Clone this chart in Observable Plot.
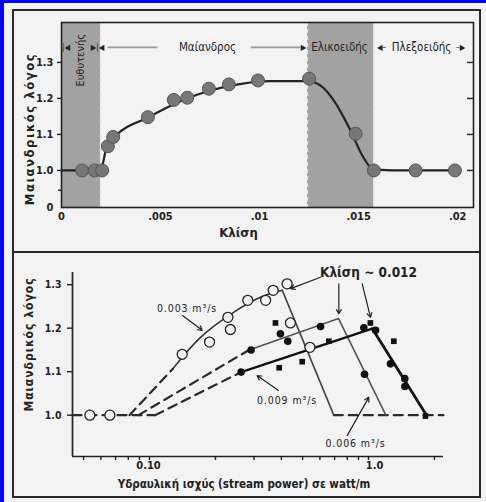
<!DOCTYPE html>
<html>
<head>
<meta charset="utf-8">
<script src="https://cdn.jsdelivr.net/npm/d3@7"></script>
<script src="https://cdn.jsdelivr.net/npm/@observablehq/plot@0.6"></script>
<style>
  html, body { margin: 0; padding: 0; background: #0606f6; width: 486px; height: 502px; overflow: hidden; }
  #page { position: absolute; left: 4px; top: 3px; width: 482px; height: 499px; background: #f3f3f3; }
  #outer { position: absolute; left: 12px; top: 9px; width: 469px; height: 489px; box-sizing: border-box; border: 2px solid #2a2a2a; }
  #sep { position: absolute; left: 12px; top: 251px; width: 469px; height: 2px; background: #2a2a2a; }
  #topChart { position: absolute; left: 0; top: 0; }
  #bottomChart { position: absolute; left: 0; top: 250px; }
</style>
</head>
<body>
<div id="page"></div>
<div id="outer"></div>
<div id="sep"></div>
<div id="topChart"></div>
<div id="bottomChart"></div>
<script>
// ================= TOP PANEL DATA =================
const slopeValues     = [0.00104,0.00167,0.00205,0.00234,0.00261,0.00436,0.00567,0.00635,0.00744,0.00845,0.00992,0.01250,0.01485,0.01577,0.01788,0.01986];
const sinuosityValues = [1.000,1.000,1.000,1.067,1.093,1.148,1.196,1.202,1.227,1.239,1.250,1.255,1.102,1.000,1.000,1.000];
const fitSlope     = [0,0.00197,0.00230,0.00270,0.00440,0.00600,0.00750,0.00900,0.01050,0.01240,0.01310,0.01380,0.01460,0.01520,0.01570,0.01660,0.01990];
const fitSinuosity = [1.000,1.000,1.070,1.095,1.148,1.192,1.222,1.240,1.248,1.248,1.235,1.190,1.110,1.040,1.005,1.000,1.000];
const bandStart = [0, 0.01242];
const bandEnd   = [0.00197, 0.01576];
const bandEdges = [0.00197, 0.01242, 0.01576];
const zoneNames = ["Μαίανδρος", "Ελικοειδής", "Πλεξοειδής"];
const zoneX     = [0.00737, 0.01404, 0.01818];
const zoneRowY  = 1.342;
const straightName = "Ευθυτενής";
const straightX = 0.00096, straightY = 1.306;
const glyphTexts = ["|◀", "▶|◀", "▶", "◀–", "–▶"];
const glyphX     = [0.00023, 0.00182, 0.01222, 0.01616, 0.02015];
const guideFrom  = [0.00232, 0.00955];
const guideTo    = [0.00485, 0.01207];
const topXTicks  = [0, 0.005, 0.01, 0.015, 0.02];
const topXLabels = ["0", ".005", ".01", ".015", ".02"];
const topYTicks  = [1.0, 1.1, 1.2, 1.3];
const topXDomain = [0, 0.0208];
const topYDomain = [0.897, 1.411];
const topXTitle = "Κλίση";
const yTitle = "Μαιανδρικός λόγος";

// ================= BOTTOM PANEL DATA =================
const openX   = [0.0534,0.0659,0.141,0.188,0.228,0.234,0.281,0.339,0.367,0.425,0.440,0.540];
const openY   = [1.000,1.000,1.140,1.168,1.225,1.197,1.264,1.264,1.287,1.302,1.212,1.156];
const filledX = [0.262,0.291,0.396,0.428,0.604,0.952,1.077,0.959,1.260,1.465,1.465];
const filledY = [1.099,1.150,1.187,1.170,1.204,1.201,1.195,1.094,1.118,1.084,1.066];
const squareX = [0.376,0.391,0.498,0.659,1.020,1.305,1.820];
const squareY = [1.212,1.109,1.123,1.170,1.212,1.170,0.998];
const q003Dashed = [[0.081,1.0],[0.128,1.107]];
const q003Solid  = [[0.128,1.107],[0.171,1.179],[0.243,1.237],[0.321,1.271],[0.404,1.287]];
const q003Drop   = [[0.404,1.287],[0.694,1.0]];
const q006Dashed = [[0.089,1.0],[0.285,1.150]];
const q006Solid  = [[0.285,1.150],[0.730,1.222],[1.200,1.0]];
const q009Dashed = [[0.106,1.0],[0.262,1.099]];
const q009Solid  = [[0.262,1.099],[1.040,1.199]];
const q009Drop   = [[1.040,1.199],[1.840,1.0]];
const baseLeft   = [[0.0445,1.0],[0.106,1.0]];
const baseRight  = [[0.694,1.0],[2.2,1.0]];
const noteTexts = ["0.003 m³/s", "0.009 m³/s", "0.006 m³/s"];
const noteX     = [0.1483, 0.4245, 0.872];
const noteY     = [1.245, 1.034, 0.934];
const slopeNote = "Κλίση ~ 0.012";
const slopeNoteX = 1.0, slopeNoteY = 1.328;
const arrowX1 = [0.1415, 0.388, 0.799, 0.604, 0.732, 0.936];
const arrowY1 = [1.229, 1.057, 0.953, 1.317, 1.302, 1.302];
const arrowX2 = [0.174, 0.310, 1.003, 0.4405, 0.732, 1.021];
const arrowY2 = [1.195, 1.091, 1.041, 1.291, 1.233, 1.225];
const botYTicks = [1.0, 1.1, 1.2, 1.3];
const botMinorTicks = [0.05,0.06,0.07,0.08,0.09,0.2,0.3,0.4,0.5,0.6,0.7,0.8,0.9,2];
const botMajorTicks = [0.1, 1.0];
const botMajorLabels = ["0.10", "1.0"];
const botXDomain = [0.0445, 2.2];
const botYDomain = [0.905, 1.328];
const botXTitle = "Υδραυλική ισχύς (stream power) σε watt/m";

const narrow = '"Liberation Sans Narrow","DejaVu Sans Condensed","Liberation Sans",Arial,sans-serif';
const ink = "#222";

// ---------- TOP CHART ----------
const topPoints = slopeValues.map((x, i) => ({x, y: sinuosityValues[i]}));
const topFit = fitSlope.map((x, i) => ({x, y: fitSinuosity[i]}));
const bands = bandStart.map((x1, i) => ({x1, x2: bandEnd[i]}));
const zones = zoneNames.map((t, i) => ({t, x: zoneX[i], y: zoneRowY}));
const glyphs = glyphTexts.map((t, i) => ({t, x: glyphX[i], y: zoneRowY}));
const guides = guideFrom.map((x1, i) => ({x1, x2: guideTo[i], y: zoneRowY}));

const topPlot = Plot.plot({
  width: 486, height: 250,
  marginLeft: 61, marginRight: 13, marginTop: 22, marginBottom: 43,
  style: {background: "transparent", fontFamily: narrow, fontSize: "11px", fontWeight: "bold", color: ink, overflow: "visible"},
  x: {domain: topXDomain, label: null},
  y: {domain: topYDomain, label: null},
  marks: [
    Plot.rect(bands, {x1: "x1", x2: "x2", fill: "#a2a2a2"}),
    Plot.ruleX(bandEdges, {stroke: "#e2e2e2", strokeWidth: 1.4, strokeDasharray: "4,3"}),
    Plot.frame({stroke: ink, strokeWidth: 1.6}),
    Plot.axisX(topXTicks, {tickSize: 0, tickPadding: 5, tickFormat: d => topXLabels[topXTicks.indexOf(d)], label: null}),
    Plot.axisY(topYTicks, {tickSize: 4, tickPadding: 4, tickFormat: d3.format(".1f"), label: null, strokeWidth: 1.4}),
    Plot.axisY([0.945], {tickSize: 3, tickFormat: () => "", label: null, strokeWidth: 1.4}),
    Plot.axisY([topYDomain[0]], {tickSize: 0, tickPadding: 8, tickFormat: () => "0", label: null}),
    Plot.tickY(topYTicks, {insetLeft: 406, stroke: ink, strokeWidth: 1.4}),
    Plot.line(topFit, {x: "x", y: "y", curve: "monotone-x", stroke: ink, strokeWidth: 2.2}),
    Plot.dot(topPoints, {x: "x", y: "y", r: 6.5, fill: "#777", stroke: "#555", strokeWidth: 1}),
    Plot.link(guides, {x1: "x1", x2: "x2", y1: "y", y2: "y", stroke: "#9a9a9a", strokeWidth: 1.6}),
    Plot.text(zones, {x: "x", y: "y", text: "t", fontSize: 11.5, fontWeight: "normal", fill: ink}),
    Plot.text(glyphs, {x: "x", y: "y", text: "t", fontSize: 8, fontWeight: "normal", fill: ink}),
    Plot.text([straightName], {x: straightX, y: straightY, text: d => d, rotate: -90, fontSize: 11, fontWeight: "normal", fill: ink}),
    Plot.text([topXTitle], {frameAnchor: "bottom", textAnchor: "middle", lineAnchor: "middle", dx: -29, dy: 25, fontSize: 13, fontWeight: "bold", fill: ink}),
    Plot.text([yTitle], {frameAnchor: "left", textAnchor: "middle", lineAnchor: "middle", dx: -32, dy: 14, rotate: -90, fontSize: 13, fontWeight: "bold", fill: ink})
  ]
});
document.getElementById("topChart").appendChild(topPlot);

// ---------- BOTTOM CHART ----------
const openPts = openX.map((x, i) => ({x, y: openY[i]}));
const filledPts = filledX.map((x, i) => ({x, y: filledY[i]}));
const squarePts = squareX.map((x, i) => ({x, y: squareY[i]}));
const notes = noteTexts.map((t, i) => ({t, x: noteX[i], y: noteY[i]}));
const arrows = arrowX1.map((x1, i) => ({x1, y1: arrowY1[i], x2: arrowX2[i], y2: arrowY2[i]}));
const dash = {stroke: "#2a2a2a", strokeWidth: 2.2, strokeDasharray: "9,6"};

const bottomPlot = Plot.plot({
  width: 486, height: 252,
  marginLeft: 72, marginRight: 43, marginTop: 22, marginBottom: 46,
  style: {background: "transparent", fontFamily: narrow, fontSize: "10.5px", fontWeight: "bold", color: ink, overflow: "visible"},
  x: {type: "log", domain: botXDomain, label: null},
  y: {domain: botYDomain, label: null},
  marks: [
    Plot.ruleX([botXDomain[0]], {stroke: ink, strokeWidth: 1.7}),
    Plot.ruleY([botYDomain[0]], {stroke: ink, strokeWidth: 1.7}),
    Plot.axisY(botYTicks, {tickSize: 5, tickPadding: 6, tickFormat: d3.format(".1f"), label: null, strokeWidth: 1.4}),
    Plot.axisX(botMinorTicks, {tickSize: 4, tickFormat: () => "", label: null, strokeWidth: 1.4}),
    Plot.axisX(botMajorTicks, {tickSize: 4, tickFormat: () => "", label: null, strokeWidth: 1.4}),
    Plot.axisX([botMajorTicks[0]], {tickSize: 0, tickPadding: 5, dx: -1, fontSize: 11, tickFormat: () => botMajorLabels[0], label: null}),
    Plot.axisX([botMajorTicks[1]], {tickSize: 0, tickPadding: 5, dx: 6, fontSize: 11, tickFormat: () => botMajorLabels[1], label: null}),
    Plot.line(baseLeft, dash),
    Plot.line(baseRight, dash),
    Plot.line(q003Dashed, dash),
    Plot.line(q006Dashed, dash),
    Plot.line(q009Dashed, dash),
    Plot.line(q003Solid, {stroke: "#333", strokeWidth: 1.6, curve: "natural"}),
    Plot.line(q003Drop, {stroke: "#444", strokeWidth: 1.6}),
    Plot.line(q006Solid, {stroke: "#555", strokeWidth: 1.6}),
    Plot.line(q009Solid, {stroke: "#111", strokeWidth: 2.2}),
    Plot.line(q009Drop, {stroke: "#111", strokeWidth: 2.8}),
    Plot.dot(openPts, {x: "x", y: "y", r: 5, fill: "#f3f3f3", stroke: ink, strokeWidth: 1.3}),
    Plot.dot(filledPts, {x: "x", y: "y", r: 3.8, fill: "#111"}),
    Plot.dot(squarePts, {x: "x", y: "y", r: 3.2, symbol: "square", fill: "#111"}),
    Plot.arrow(arrows, {x1: "x1", y1: "y1", x2: "x2", y2: "y2", stroke: ink, strokeWidth: 1.2, headLength: 6, insetEnd: 0}),
    Plot.text(notes, {x: "x", y: "y", text: "t", fontSize: 10.5, fontWeight: "normal", fill: ink}),
    Plot.text([slopeNote], {x: slopeNoteX, y: slopeNoteY, text: d => d, fontSize: 13.5, fontWeight: "bold", fill: ink}),
    Plot.text([botXTitle], {frameAnchor: "bottom", textAnchor: "middle", lineAnchor: "middle", dx: -14, dy: 28, fontSize: 11.5, fontWeight: "bold", fill: ink}),
    Plot.text([yTitle], {frameAnchor: "left", textAnchor: "middle", lineAnchor: "middle", dx: -43, dy: -20, rotate: -90, fontSize: 12, fontWeight: "bold", fill: ink})
  ]
});
document.getElementById("bottomChart").appendChild(bottomPlot);

// letter spacing tweaks to match the spaced-out lettering of the scan
function spaceText(svg, content, spacing) {
  d3.select(svg).selectAll("text").filter(function () { return this.textContent === content; })
    .attr("letter-spacing", spacing);
}
spaceText(topPlot, yTitle, "1.5px");
spaceText(bottomPlot, yTitle, "1px");
noteTexts.forEach(t => spaceText(bottomPlot, t, "0.9px"));
</script>
</body>
</html>
